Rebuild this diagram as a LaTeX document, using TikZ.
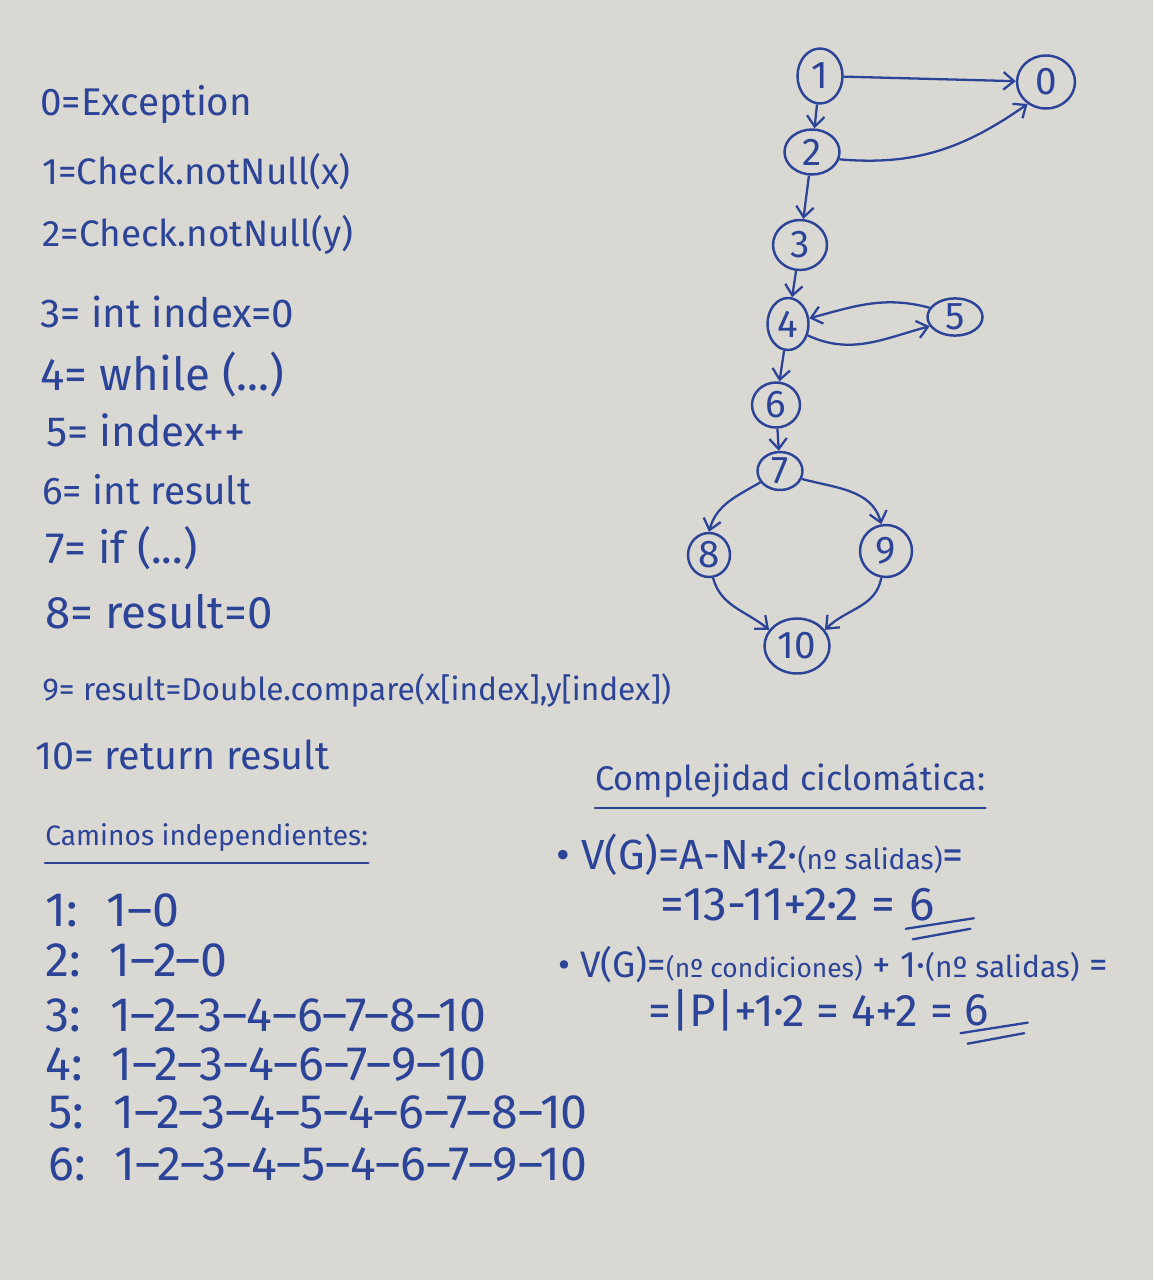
\documentclass[tikz,border=0pt]{standalone}
\usepackage{fontspec}
\setmainfont{Fira Sans}
\usetikzlibrary{shapes.geometric,arrows.meta}
\definecolor{board}{RGB}{218,216,211}
\definecolor{ink}{RGB}{44,68,152}

\begin{document}
\begin{tikzpicture}[x=0.02cm,y=0.02cm,
		state/.style={draw=ink,ellipse,line width=1.4pt,inner sep=0pt,text=ink,font=\fontsize{22}{22}\selectfont},
		note/.style={anchor=west,inner sep=0pt,text=ink,font=\fontsize{22}{24}\selectfont},
		walk/.style={note,font=\fontsize{27.5}{28}\selectfont},
		link/.style={draw=ink,line width=1.3pt,-{Straight Barb[length=6pt,width=10pt]}},
		pen/.style={draw=ink,line width=1.3pt,line cap=round}]
		\fill [board] (0,0) rectangle (1153,-1280);
		\node [state,minimum width=1.16cm,minimum height=1.06cm] (n0) at (1046,-82) {0};
		\node [state,minimum width=0.9cm,minimum height=1.1cm] (n1) at (820,-76) {1};
		\node [state,minimum width=1.1cm,minimum height=0.9cm] (n2) at (812,-152) {2};
		\node [state,minimum width=1.08cm,minimum height=1cm] (n3) at (800,-245) {3};
		\node [state,minimum width=0.82cm,minimum height=1.04cm] (n4) at (788,-324) {4};
		\node [state,minimum width=1.1cm,minimum height=0.74cm] (n5) at (955,-317) {5};
		\node [state,minimum width=0.96cm,minimum height=0.9cm] (n6) at (776,-405) {6};
		\node [state,minimum width=0.9cm,minimum height=0.76cm] (n7) at (780,-471) {7};
		\node [state,minimum width=0.84cm,minimum height=0.88cm] (n8) at (709,-555) {8};
		\node [state,minimum width=1.04cm,minimum height=1.04cm] (n9) at (886,-551) {9};
		\node [state,minimum width=1.3cm,minimum height=1.1cm] (n10) at (797,-646) {10};
		\draw [link] (n1) -- (n0);
		\draw [link] (n1) -- (n2);
		\draw [link] (n2.-15) to[out=-5,in=215] (n0.-130);
		\draw [link] (n2) -- (n3);
		\draw [link] (n3) -- (n4);
		\draw [link] (n4.-30) to[out=-25,in=195] (n5.-160);
		\draw [link] (n5.160) to[out=165,in=15] (n4.15);
		\draw [link] (n4) -- (n6);
		\draw [link] (n6) -- (n7);
		\draw [link] (n7.-150) to[out=210,in=75] (n8.north);
		\draw [link] (n7.-20) to[out=-15,in=105] (n9.100);
		\draw [link] (n8.-80) to[out=-75,in=140] (n10.150);
		\draw [link] (n9.-100) to[out=-100,in=45] (n10.30);
		\node [note] (d0) at (40,-105) {0=Exception};
		\node [note,font=\fontsize{21}{24}\selectfont] (d1) at (42,-172) {1=Check.notNull(x)};
		\node [note,font=\fontsize{21}{24}\selectfont] (d2) at (42,-235) {2=Check.notNull(y)};
		\node [note,font=\fontsize{23}{24}\selectfont] (d3) at (40,-312) {3= int index=0};
		\node [note,font=\fontsize{26}{28}\selectfont] (d4) at (40,-375) {4= while (...)};
		\node [note,font=\fontsize{24}{26}\selectfont] (d5) at (46,-430) {5= index++};
		\node [note] (d6) at (42,-490) {6= int result};
		\node [note,font=\fontsize{25}{26}\selectfont] (d7) at (45,-548) {7= if (...)};
		\node [note,font=\fontsize{26}{28}\selectfont] (d8) at (45,-612) {8= result=0};
		\node [note,font=\fontsize{18}{20}\selectfont] (d9) at (42,-690) {9= result=Double.compare(x[index],y[index])};
		\node [note,font=\fontsize{22.5}{24}\selectfont] (d10) at (35,-755) {10= return result};
		\node [note,font=\fontsize{16}{18}\selectfont] (cam) at (45,-838) {Caminos independientes:};
		\draw [pen] ([yshift=-6pt]cam.south west) -- ([yshift=-6pt]cam.south east);
		\node [walk] (p1) at (45,-910) {1:\hspace{0.6em}1–0};
		\node [walk] (p2) at (45,-960) {2:\hspace{0.6em}1–2–0};
		\node [walk] (p3) at (45,-1015) {3:\hspace{0.6em}1–2–3–4–6–7–8–10};
		\node [walk] (p4) at (45,-1065) {4:\hspace{0.6em}1–2–3–4–6–7–9–10};
		\node [walk] (p5) at (48,-1112) {5:\hspace{0.6em}1–2–3–4–5–4–6–7–8–10};
		\node [walk] (p6) at (48,-1165) {6:\hspace{0.6em}1–2–3–4–5–4–6–7–9–10};
		\node [note,font=\fontsize{19.5}{22}\selectfont] (cc) at (595,-780) {Complejidad ciclomática:};
		\draw [pen] ([yshift=-6pt]cc.south west) -- ([yshift=-6pt]cc.south east);
		\node [note,font=\fontsize{24}{26}\selectfont] (v1) at (556,-855) {• V(G)=A-N+2·{\fontsize{16}{18}\selectfont(nº salidas)}=};
		\node [note,font=\fontsize{27}{28}\selectfont] (r1) at (660,-905) {=13-11+2·2 =};
		\node [note,font=\fontsize{27}{28}\selectfont] (s1) at ([xshift=8pt]r1.east) {6};
		\draw [pen] ([xshift=-2pt,yshift=-4pt]s1.south west) -- ([xshift=22pt,yshift=2pt]s1.south east);
		\draw [pen] ([xshift=2pt,yshift=-10pt]s1.south west) -- ([xshift=20pt,yshift=-4pt]s1.south east);
		\node [note,font=\fontsize{21}{24}\selectfont] (v2) at (558,-965) {• V(G)={\fontsize{15}{18}\selectfont(nº condiciones)} + 1·{\fontsize{17}{20}\selectfont(nº salidas)} =};
		\node [note,font=\fontsize{26}{28}\selectfont] (r2) at (648,-1010) {=|P|+1·2 = 4+2 =};
		\node [note,font=\fontsize{26}{28}\selectfont] (s2) at ([xshift=6pt]r2.east) {6};
		\draw [pen] ([xshift=-2pt,yshift=-4pt]s2.south west) -- ([xshift=22pt,yshift=2pt]s2.south east);
		\draw [pen] ([xshift=2pt,yshift=-10pt]s2.south west) -- ([xshift=20pt,yshift=-4pt]s2.south east);
	\end{tikzpicture}
\end{document}
